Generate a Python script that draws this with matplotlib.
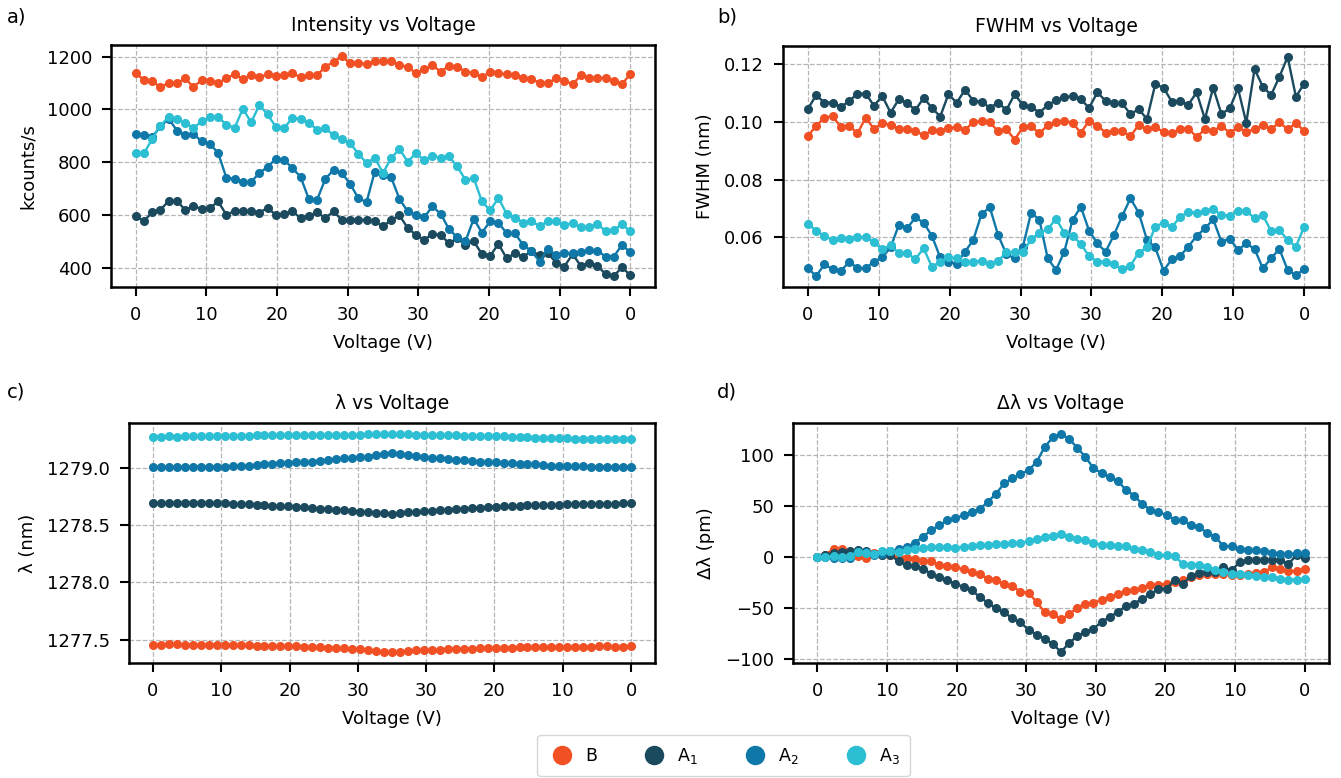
import numpy as np
import matplotlib
matplotlib.use("Agg")
import matplotlib.pyplot as plt
from matplotlib.lines import Line2D

plt.rcParams['font.family'] = ['DejaVu Sans']
plt.rcParams['mathtext.default'] = 'regular'

# ---------------- data ----------------
series_names = ["B", "A$_1$", "A$_2$", "A$_3$"]
colors = ["#F05023", "#1B4A5E", "#1078A8", "#2CBED2"]

xtick_volts = [0, 10, 20, 30, 30, 20, 10, 0]
v_max = 35          # turning voltage of the sweep
n_half = 30         # steps per half sweep

int_B = [1138,1112,1107,1085,1101,1099,1118,1085,1112,1110,
         1101,1118,1134,1116,1130,1124,1133,1126,1131,1137,
         1123,1131,1129,1163,1180,1203,1175,1177,1171,1183,
         1185,1184,1170,1161,1138,1152,1167,1144,1165,1163,
         1144,1138,1123,1142,1137,1133,1129,1119,1116,1101,
         1101,1118,1110,1096,1129,1119,1120,1120,1109,1096,1134]
int_A1 = [594,577,610,619,653,653,619,632,623,626,
          651,600,615,616,613,609,626,600,604,613,
          588,596,610,588,613,581,581,581,581,577,
          556,581,598,550,524,505,528,524,492,511,
          486,499,452,444,490,435,454,442,461,448,
          454,419,404,451,406,419,406,376,368,401,371]
int_A2 = [908,905,896,936,965,920,905,907,879,869,
          835,740,737,723,725,759,782,813,809,778,
          744,660,657,736,771,759,718,664,648,764,
          752,742,660,613,600,591,632,604,546,515,
          499,585,533,575,571,530,530,486,463,423,
          471,448,454,454,458,467,464,442,442,486,458]
int_A3 = [834,834,888,939,972,962,949,930,955,970,
          970,943,930,1003,951,1017,981,934,929,968,
          962,949,924,929,902,888,873,832,797,816,
          759,816,850,801,835,807,825,816,822,784,
          733,740,651,617,664,604,590,571,575,558,
          575,575,562,569,553,553,565,539,541,565,537]

fwhm_B = [0.0952,0.0985,0.1015,0.1020,0.0981,0.0987,0.0960,0.1015,0.0975,0.0997,
          0.0989,0.0977,0.0975,0.0968,0.0954,0.0971,0.0969,0.0980,0.0981,0.0971,
          0.1000,0.1003,0.0998,0.0968,0.0975,0.0939,0.0981,0.0985,0.0960,0.0989,
          0.1000,0.1004,0.0997,0.0962,0.1004,0.0987,0.0963,0.0969,0.0968,0.0951,
          0.0989,0.0974,0.0981,0.0966,0.0960,0.0977,0.0977,0.0948,0.0974,0.0969,
          0.0985,0.0963,0.0981,0.0966,0.0974,0.0989,0.0975,0.0998,0.0975,0.0995,0.0969]
fwhm_A1 = [0.1044,0.1093,0.1067,0.1067,0.1052,0.1072,0.1098,0.1098,0.1056,0.1090,
           0.1032,0.1078,0.1066,0.1041,0.1083,0.1049,0.1018,0.1096,0.1066,0.1112,
           0.1073,0.1070,0.1049,0.1067,0.1041,0.1096,0.1058,0.1052,0.1032,0.1058,
           0.1075,0.1085,0.1090,0.1078,0.1049,0.1102,0.1073,0.1067,0.1064,0.1027,
           0.1044,0.1010,0.1131,0.1118,0.1070,0.1072,0.1060,0.1102,0.1010,0.1119,
           0.1027,0.1047,0.1116,0.0997,0.1183,0.1122,0.1093,0.1156,0.1225,0.1087,0.1133]
fwhm_A2 = [0.0493,0.0466,0.0506,0.0490,0.0483,0.0516,0.0493,0.0493,0.0516,0.0531,
           0.0565,0.0643,0.0631,0.0669,0.0651,0.0605,0.0531,0.0516,0.0508,0.0550,
           0.0591,0.0681,0.0704,0.0608,0.0542,0.0527,0.0568,0.0686,0.0660,0.0527,
           0.0487,0.0550,0.0660,0.0706,0.0623,0.0579,0.0550,0.0608,0.0674,0.0735,
           0.0685,0.0591,0.0565,0.0485,0.0524,0.0535,0.0568,0.0605,0.0631,0.0662,
           0.0585,0.0596,0.0556,0.0579,0.0560,0.0493,0.0527,0.0560,0.0487,0.0469,0.0490]
fwhm_A3 = [0.0648,0.0623,0.0605,0.0591,0.0599,0.0596,0.0600,0.0600,0.0583,0.0558,
           0.0573,0.0545,0.0545,0.0525,0.0562,0.0498,0.0516,0.0531,0.0527,0.0513,
           0.0516,0.0519,0.0506,0.0518,0.0548,0.0548,0.0550,0.0593,0.0616,0.0628,
           0.0665,0.0616,0.0606,0.0577,0.0535,0.0516,0.0516,0.0506,0.0489,0.0502,
           0.0547,0.0565,0.0637,0.0651,0.0635,0.0671,0.0689,0.0683,0.0691,0.0698,
           0.0677,0.0675,0.0692,0.0692,0.0666,0.0677,0.0622,0.0625,0.0591,0.0568,0.0637]

# wavelength shift (pm) relative to first point
dl_B = [0,2.3,8,8,4,0.6,-0.6,4,2.3,2.3,
        0,-1,-1.6,-4,-4,-8,-9,-10,-12,-14.7,
        -17,-21,-22,-26.7,-28.3,-34,-35,-44,-54,-56,
        -61,-56,-49.5,-45.6,-45,-41.7,-39,-36.5,-33.5,-32.6,
        -30.3,-27.7,-27,-26,-24.4,-22,-19.5,-18,-17,-17,
        -17,-17.3,-17.3,-16.3,-15.3,-14.7,-9.8,-12,-14,-13.7,-11.4]
dl_A1 = [0,2.3,4,5,5.5,6.5,5.5,3,2.3,1.6,
         -4,-8,-8.8,-11.4,-16.3,-20,-22.8,-26,-29.3,-32.6,
         -39,-45,-50,-54,-60,-64,-71,-76,-80,-85,
         -93,-84,-77.5,-73,-70,-63.5,-58.6,-53.7,-48,-45.6,
         -40.7,-36.5,-31,-31,-22,-26,-19,-15.6,-14.7,-14.7,
         -9.8,-13,-5,-3.3,-3.3,-2.6,-2.6,-2.6,-6.5,1.6,-0.6]
dl_A2 = [0,0,-1,-1,-1,5,5,2,3,5.5,
         8,10,14,20,26,31,36,38,41,44,
         47,54,62,72,77,81,85,93,108,117,
         120.5,115.6,107,98,87,82,78,74,66,60,
         52,46,44,41,36.5,36,31,29,24,20,
         10.4,10.4,8,7,6.5,5.5,4,3,2.6,4,4]
dl_A3 = [0,0,0.6,0,1.5,5,4,3,5.5,5.5,
         5,6.5,8,9,10,10,10,9,10,10.4,
         11.4,11.4,12.4,13,13.7,14,15.3,18,20,21,
         22.8,19.5,18,17,13.7,12,11.4,10.4,10.4,8,
         6.5,5,1.6,1.6,0.6,-6.5,-7.5,-8,-10,-12.4,
         -14.7,-16.3,-17,-17.3,-19,-19.5,-19.5,-21,-22,-22,-21.8]

# starting wavelengths (nm)
lam0 = [1277.455, 1278.688, 1279.003, 1279.270]

intensity = [int_B, int_A1, int_A2, int_A3]
fwhm = [fwhm_B, fwhm_A1, fwhm_A2, fwhm_A3]
dlam = [dl_B, dl_A1, dl_A2, dl_A3]
lam = [np.array(l0) + np.array(d) / 1000.0 for l0, d in zip(lam0, dlam)]

# ---------------- figure ----------------
W, H = 1341, 778
fig = plt.figure(figsize=(W / 100, H / 100), dpi=100)

def box(l, r, t, b):
    return [l / W, 1 - b / H, (r - l) / W, (b - t) / H]

ax_a = fig.add_axes(box(111, 655, 45, 287))
ax_b = fig.add_axes(box(783, 1329, 46, 287))
ax_c = fig.add_axes(box(129, 655, 423, 663))
ax_d = fig.add_axes(box(793, 1329, 423, 663))

n = 2 * n_half + 1
x = np.arange(n)
tick_pos = []
for k, v in enumerate(xtick_volts):
    if k < len(xtick_volts) // 2:
        tick_pos.append(v * n_half / v_max)
    else:
        tick_pos.append(2 * n_half - v * n_half / v_max)

panels = [
    (ax_a, intensity, "Intensity vs Voltage", "kcounts/s"),
    (ax_b, fwhm, "FWHM vs Voltage", "FWHM (nm)"),
    (ax_c, lam, "λ vs Voltage", "λ (nm)"),
    (ax_d, dlam, "Δλ vs Voltage", "Δλ (pm)"),
]

for ax, data, title, ylabel in panels:
    for vals, c in zip(data, colors):
        ax.plot(x, vals, color=c, marker='o', ms=5.5, lw=1.7)
    ax.set_title(title, fontsize=13.5, pad=10.3)
    ax.set_ylabel(ylabel, fontsize=13, labelpad=7)
    ax.set_xlabel("Voltage (V)", fontsize=13, labelpad=7)
    ax.set_xticks(tick_pos)
    ax.set_xticklabels([str(v) for v in xtick_volts])
    ax.tick_params(labelsize=13, length=6.2, width=1.5, direction='out', pad=7.5)
    for s in ax.spines.values():
        s.set_linewidth(1.8)
    ax.grid(True, ls='--', color='#b5b5b5', lw=0.9)
    ax.set_axisbelow(True)

ax_b.set_yticks([0.06, 0.08, 0.10, 0.12])
ax_b.set_yticklabels(["0.06", "0.08", "0.10", "0.12"])
ax_c.set_yticks([1277.5, 1278.0, 1278.5, 1279.0])
ax_c.set_yticklabels(["1277.5", "1278.0", "1278.5", "1279.0"])

for letter, px, py in [("a)", 7, 17), ("b)", 717, 17), ("c)", 7, 392), ("d)", 717, 392)]:
    fig.text(px / W, 1 - py / H, letter, fontsize=14, va='center')

handles = [Line2D([], [], ls='none', marker='o', ms=13, color=c) for c in colors]
fig.legend(handles, series_names, loc='lower center', bbox_to_anchor=(723.5 / W, 0.0),
           ncol=4, fontsize=12.5, frameon=True, fancybox=True, edgecolor='#cccccc',
           handlelength=1.68, handletextpad=0.48, columnspacing=2.45, borderpad=0.6,
           borderaxespad=0.1)

fig.savefig("out.png", dpi=100)
